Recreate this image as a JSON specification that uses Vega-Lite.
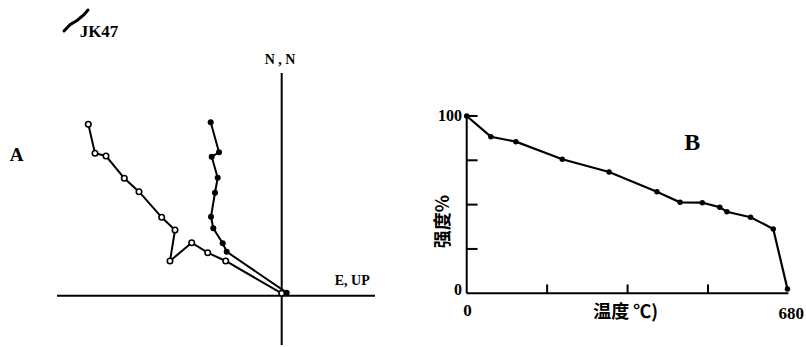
{
  "$schema": "https://vega.github.io/schema/vega-lite/v6.json",
  "padding": 0,
  "spacing": 0,
  "bounds": "flush",
  "background": "white",
  "config": {"view": {"stroke": null}, "font": "Liberation Serif"},
  "datasets": {
    "axesA": [
      {"x": 0, "y": -49.3, "x2": 0, "y2": 222.7},
      {"x": -224.7, "y": 0, "x2": 93.3, "y2": 0}
    ],
    "zij": [
      {"series": "horizontal", "i": 1, "x": -193.4, "y": 171.4},
      {"series": "horizontal", "i": 2, "x": -186.7, "y": 142.4},
      {"series": "horizontal", "i": 3, "x": -175.7, "y": 139.7},
      {"series": "horizontal", "i": 4, "x": -157.4, "y": 117.4},
      {"series": "horizontal", "i": 5, "x": -142.7, "y": 104.0},
      {"series": "horizontal", "i": 6, "x": -120.0, "y": 78.4},
      {"series": "horizontal", "i": 7, "x": -106.7, "y": 65.7},
      {"series": "horizontal", "i": 8, "x": -111.7, "y": 34.7},
      {"series": "horizontal", "i": 9, "x": -90.0, "y": 53.0},
      {"series": "horizontal", "i": 10, "x": -74.0, "y": 43.0},
      {"series": "horizontal", "i": 11, "x": -56.0, "y": 34.7},
      {"series": "horizontal", "i": 12, "x": 0.0, "y": 2.4},
      {"series": "vertical", "i": 1, "x": -71.0, "y": 173.4},
      {"series": "vertical", "i": 2, "x": -62.7, "y": 143.4},
      {"series": "vertical", "i": 3, "x": -70.0, "y": 139.0},
      {"series": "vertical", "i": 4, "x": -64.0, "y": 118.0},
      {"series": "vertical", "i": 5, "x": -66.7, "y": 103.0},
      {"series": "vertical", "i": 6, "x": -70.7, "y": 79.0},
      {"series": "vertical", "i": 7, "x": -68.4, "y": 67.4},
      {"series": "vertical", "i": 8, "x": -59.0, "y": 52.4},
      {"series": "vertical", "i": 9, "x": -55.0, "y": 44.0},
      {"series": "vertical", "i": 10, "x": 5.0, "y": 3.0}
    ],
    "scribble": [
      {"i": 1, "x": -217.7, "y": 264.7},
      {"i": 2, "x": -211.7, "y": 271.0},
      {"i": 3, "x": -204.7, "y": 275.2},
      {"i": 4, "x": -197.7, "y": 281.0},
      {"i": 5, "x": -193.7, "y": 285.7}
    ],
    "jk": [{"label": "JK47", "x": -182.7, "y": 264.2}],
    "axisNamesA": [
      {"label": "N , N", "x": -1.7, "y": 235.5},
      {"label": "E, UP", "x": 70.5, "y": 14.5}
    ],
    "panelA": [{"label": "A", "x": -265.0, "y": 140.7}],
    "axesB": [
      {"x": 0, "y": 0, "x2": 0, "y2": 101},
      {"x": 0, "y": 0, "x2": 680, "y2": 0},
      {"x": 0, "y": 25, "x2": 23, "y2": 25},
      {"x": 0, "y": 50, "x2": 23, "y2": 50},
      {"x": 0, "y": 75, "x2": 23, "y2": 75},
      {"x": 0, "y": 100, "x2": 23, "y2": 100},
      {"x": 170, "y": 0, "x2": 170, "y2": 5},
      {"x": 340, "y": 0, "x2": 340, "y2": 5},
      {"x": 510, "y": 0, "x2": 510, "y2": 5}
    ],
    "demag": [
      {"t": 0, "v": 100.0},
      {"t": 51, "v": 88.3},
      {"t": 104, "v": 85.5},
      {"t": 202, "v": 75.6},
      {"t": 301, "v": 68.4},
      {"t": 402, "v": 57.3},
      {"t": 451, "v": 51.3},
      {"t": 498, "v": 51.1},
      {"t": 535, "v": 48.5},
      {"t": 550, "v": 46.0},
      {"t": 600, "v": 42.9},
      {"t": 648, "v": 36.3},
      {"t": 678, "v": 2.4}
    ],
    "yLabelsB": [
      {"label": "100", "x": -10, "y": 100},
      {"label": "0", "x": -10, "y": 2}
    ],
    "xLabelsB": [
      {"label": "0", "x": 1.7, "y": -9.8},
      {"label": "680", "x": 686, "y": -11.5}
    ],
    "panelB": [{"label": "B", "x": 477, "y": 84.5}],
    "cjkB": [
      {"label": "温度 ℃)", "x": 336, "y": -11.3, "angle": 0},
      {"label": "强度%", "x": -47, "y": 40.5, "angle": 270}
    ]
  },
  "hconcat": [
    {
      "width": 400,
      "height": 347,
      "encoding": {
        "x": {"field": "x", "type": "quantitative", "scale": {"domain": [-281.7, 118.3], "nice": false, "zero": false}, "axis": null},
        "y": {"field": "y", "type": "quantitative", "scale": {"domain": [-51.3, 295.7], "nice": false, "zero": false}, "axis": null}
      },
      "layer": [
        {
          "data": {"name": "axesA"},
          "mark": {"type": "rule", "color": "black", "strokeWidth": 2},
          "encoding": {"x2": {"field": "x2"}, "y2": {"field": "y2"}}
        },
        {
          "data": {"name": "scribble"},
          "mark": {"type": "line", "color": "black", "strokeWidth": 3, "strokeCap": "round"},
          "encoding": {"order": {"field": "i", "type": "quantitative"}}
        },
        {
          "data": {"name": "zij"},
          "mark": {"type": "line", "color": "black", "strokeWidth": 2},
          "encoding": {
            "detail": {"field": "series"},
            "order": {"field": "i", "type": "quantitative"}
          }
        },
        {
          "data": {"name": "zij"},
          "transform": [{"filter": "datum.series === 'horizontal'"}],
          "mark": {"type": "point", "shape": "circle", "filled": true, "fill": "white", "stroke": "black", "strokeWidth": 1.6, "size": 30, "opacity": 1}
        },
        {
          "data": {"name": "zij"},
          "transform": [{"filter": "datum.series === 'vertical'"}],
          "mark": {"type": "point", "shape": "circle", "filled": true, "color": "black", "size": 36, "opacity": 1}
        },
        {
          "data": {"name": "jk"},
          "mark": {"type": "text", "color": "black", "fontWeight": "bold", "font": "Liberation Serif", "fontSize": 17, "baseline": "middle", "align": "center"},
          "encoding": {"text": {"field": "label"}}
        },
        {
          "data": {"name": "axisNamesA"},
          "mark": {"type": "text", "color": "black", "fontWeight": "bold", "font": "Liberation Serif", "fontSize": 14, "baseline": "middle", "align": "center"},
          "encoding": {"text": {"field": "label"}}
        },
        {
          "data": {"name": "panelA"},
          "mark": {"type": "text", "color": "black", "fontWeight": "bold", "font": "Liberation Serif", "fontSize": 19, "baseline": "middle", "align": "center"},
          "encoding": {"text": {"field": "label"}}
        }
      ]
    },
    {
      "width": 406,
      "height": 347,
      "encoding": {
        "x": {"field": "x", "type": "quantitative", "scale": {"domain": [-141, 717.2], "nice": false, "zero": false}, "axis": null},
        "y": {"field": "y", "type": "quantitative", "scale": {"domain": [-30.3, 165.4], "nice": false, "zero": false}, "axis": null}
      },
      "layer": [
        {
          "data": {"name": "axesB"},
          "mark": {"type": "rule", "color": "black", "strokeWidth": 2},
          "encoding": {"x2": {"field": "x2"}, "y2": {"field": "y2"}}
        },
        {
          "data": {"name": "demag"},
          "mark": {"type": "line", "color": "black", "strokeWidth": 2.2},
          "encoding": {
            "x": {"field": "t", "type": "quantitative"},
            "y": {"field": "v", "type": "quantitative"}
          }
        },
        {
          "data": {"name": "demag"},
          "mark": {"type": "point", "shape": "circle", "filled": true, "color": "black", "size": 30, "opacity": 1},
          "encoding": {
            "x": {"field": "t", "type": "quantitative"},
            "y": {"field": "v", "type": "quantitative"}
          }
        },
        {
          "data": {"name": "yLabelsB"},
          "mark": {"type": "text", "color": "black", "fontWeight": "bold", "font": "Liberation Serif", "fontSize": 16, "baseline": "middle", "align": "right"},
          "encoding": {"text": {"field": "label"}}
        },
        {
          "data": {"name": "xLabelsB"},
          "mark": {"type": "text", "color": "black", "fontWeight": "bold", "font": "Liberation Serif", "fontSize": 17, "baseline": "middle", "align": "center"},
          "encoding": {"text": {"field": "label"}}
        },
        {
          "data": {"name": "panelB"},
          "mark": {"type": "text", "color": "black", "fontWeight": "bold", "font": "Liberation Serif", "fontSize": 24, "baseline": "middle", "align": "center"},
          "encoding": {"text": {"field": "label"}}
        },
        {
          "data": {"name": "cjkB"},
          "mark": {"type": "text", "color": "black", "fontWeight": "bold", "font": "Noto Sans CJK SC", "fontSize": 18, "baseline": "middle", "align": "center"},
          "encoding": {
            "text": {"field": "label"},
            "angle": {"field": "angle", "type": "quantitative", "scale": null}
          }
        }
      ]
    }
  ]
}
